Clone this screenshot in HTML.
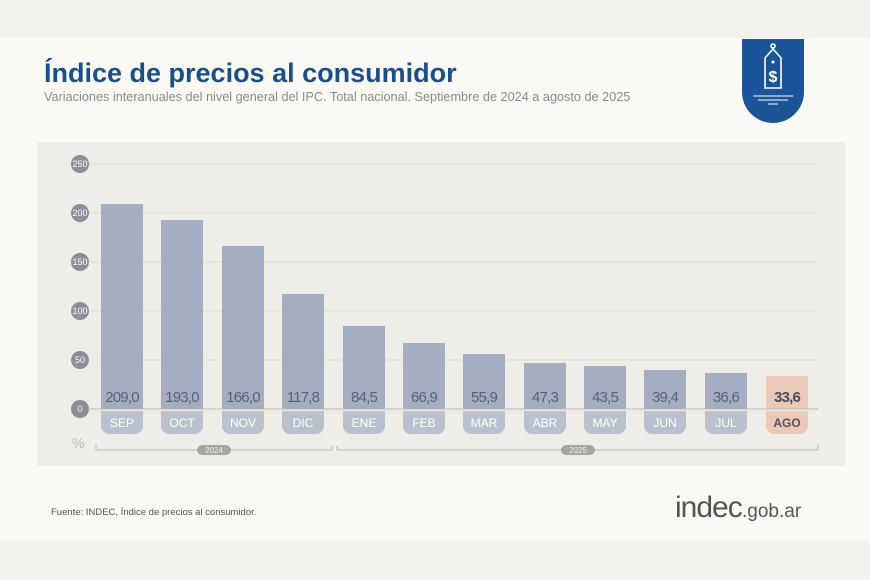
<!DOCTYPE html>
<html><head><meta charset="utf-8"><style>
html,body{margin:0;padding:0;width:870px;height:580px;overflow:hidden;background:#f4f2ed;font-family:"Liberation Sans",sans-serif}
</style></head><body>
<svg width="870" height="580" viewBox="0 0 870 580" xmlns="http://www.w3.org/2000/svg" font-family="Liberation Sans, sans-serif">
<rect x="0" y="0" width="870" height="580" fill="#f4f2ed"/>
<rect x="0" y="38" width="870" height="502" fill="#fbf9f4"/>
<text x="44" y="82" font-size="27" font-weight="bold" fill="#1b4f8a">Índice de precios al consumidor</text>
<text x="44" y="101" font-size="12.7" fill="#8a8a8a">Variaciones interanuales del nivel general del IPC. Total nacional. Septiembre de 2024 a agosto de 2025</text>
<path d="M742 39 H804 V92 A31 31 0 0 1 742 92 Z" fill="#1a5499"/>
<g stroke="#fff" stroke-width="1.6" fill="none">
<circle cx="773" cy="46" r="2"/>
<path d="M765 58 L773 49 L781 58 V88 H765 Z"/>
</g>
<text x="773" y="82" font-size="16" font-weight="bold" fill="#fff" text-anchor="middle">$</text>
<circle cx="773" cy="62" r="1.5" fill="#fff"/>
<g stroke="#fff" stroke-width="1"><line x1="753" y1="96" x2="793" y2="96"/><line x1="758" y1="100" x2="788" y2="100"/><line x1="768" y1="104" x2="778" y2="104"/></g>
<rect x="37" y="142" width="808" height="324" fill="#efede8"/>
<g stroke="#e0ddd6" stroke-width="1">
<line x1="88" y1="164" x2="818" y2="164"/><line x1="88" y1="213" x2="818" y2="213"/><line x1="88" y1="262" x2="818" y2="262"/><line x1="88" y1="311" x2="818" y2="311"/><line x1="88" y1="360" x2="818" y2="360"/>
</g>
<g fill="#8b8d99">
<circle cx="80" cy="164" r="9"/><circle cx="80" cy="213" r="9"/><circle cx="80" cy="262" r="9"/><circle cx="80" cy="311" r="9"/><circle cx="80" cy="360" r="9"/><circle cx="80" cy="409" r="9"/>
</g>
<g font-size="9" fill="#fff" text-anchor="middle">
<text x="80" y="167">250</text><text x="80" y="216">200</text><text x="80" y="265">150</text><text x="80" y="314">100</text><text x="80" y="363">50</text><text x="80" y="412">0</text>
</g>
<g fill="#a3afc0">
<rect x="101" y="204" width="42" height="205"/>
<rect x="161" y="220" width="42" height="189"/>
<rect x="222" y="246" width="42" height="163"/>
<rect x="282" y="294" width="42" height="115"/>
<rect x="343" y="326" width="42" height="83"/>
<rect x="403" y="343" width="42" height="66"/>
<rect x="463" y="354" width="42" height="55"/>
<rect x="524" y="363" width="42" height="46"/>
<rect x="584" y="366" width="42" height="43"/>
<rect x="644" y="370" width="42" height="39"/>
<rect x="705" y="373" width="42" height="36"/>
</g>
<rect x="766" y="376" width="42" height="33" fill="#eac9b6"/>
<line x1="88" y1="409" x2="818" y2="409" stroke="#b8b6b0" stroke-width="1"/>
<g fill="#b9c1cf">
<path d="M101 411 H143 V426 A8 8 0 0 1 135 434 H109 A8 8 0 0 1 101 426 Z"/>
<path d="M161 411 H203 V426 A8 8 0 0 1 195 434 H169 A8 8 0 0 1 161 426 Z"/>
<path d="M222 411 H264 V426 A8 8 0 0 1 256 434 H230 A8 8 0 0 1 222 426 Z"/>
<path d="M282 411 H324 V426 A8 8 0 0 1 316 434 H290 A8 8 0 0 1 282 426 Z"/>
<path d="M343 411 H385 V426 A8 8 0 0 1 377 434 H351 A8 8 0 0 1 343 426 Z"/>
<path d="M403 411 H445 V426 A8 8 0 0 1 437 434 H411 A8 8 0 0 1 403 426 Z"/>
<path d="M463 411 H505 V426 A8 8 0 0 1 497 434 H471 A8 8 0 0 1 463 426 Z"/>
<path d="M524 411 H566 V426 A8 8 0 0 1 558 434 H532 A8 8 0 0 1 524 426 Z"/>
<path d="M584 411 H626 V426 A8 8 0 0 1 618 434 H592 A8 8 0 0 1 584 426 Z"/>
<path d="M644 411 H686 V426 A8 8 0 0 1 678 434 H652 A8 8 0 0 1 644 426 Z"/>
<path d="M705 411 H747 V426 A8 8 0 0 1 739 434 H713 A8 8 0 0 1 705 426 Z"/>
</g>
<path d="M766 411 H808 V426 A8 8 0 0 1 800 434 H774 A8 8 0 0 1 766 426 Z" fill="#eac9b6"/>
<g font-size="15" fill="#54607a" text-anchor="middle" letter-spacing="-0.8">
<text x="122" y="402">209,0</text><text x="182" y="402">193,0</text><text x="243" y="402">166,0</text><text x="303" y="402">117,8</text><text x="364" y="402">84,5</text><text x="424" y="402">66,9</text><text x="484" y="402">55,9</text><text x="545" y="402">47,3</text><text x="605" y="402">43,5</text><text x="665" y="402">39,4</text><text x="726" y="402">36,6</text>
</g>
<text x="787" y="402" font-size="15" font-weight="bold" fill="#4a4f60" text-anchor="middle" letter-spacing="-0.8">33,6</text>
<g font-size="12" fill="#fff" text-anchor="middle">
<text x="122" y="427">SEP</text><text x="182" y="427">OCT</text><text x="243" y="427">NOV</text><text x="303" y="427">DIC</text><text x="364" y="427">ENE</text><text x="424" y="427">FEB</text><text x="484" y="427">MAR</text><text x="545" y="427">ABR</text><text x="605" y="427">MAY</text><text x="665" y="427">JUN</text><text x="726" y="427">JUL</text>
</g>
<text x="787" y="427" font-size="12" font-weight="bold" fill="#5a4f55" text-anchor="middle">AGO</text>
<text x="72" y="448" font-size="14" fill="#bdbab4">%</text>
<g stroke="#b8b6b0" stroke-width="1" fill="none">
<path d="M96 445 V450 H332 V446"/>
<path d="M337 446 V450 H818 V445"/>
</g>
<rect x="197" y="445" width="34" height="10" rx="5" fill="#a8a6a2"/>
<text x="214" y="453" font-size="8" fill="#efede8" text-anchor="middle">2024</text>
<rect x="561" y="445" width="34" height="10" rx="5" fill="#a8a6a2"/>
<text x="578" y="453" font-size="8" fill="#efede8" text-anchor="middle">2025</text>
<text x="51" y="515" font-size="9.5" fill="#555">Fuente: INDEC, Índice de precios al consumidor.</text>
<text x="675" y="517" font-size="30" fill="#555" letter-spacing="-1">indec</text>
<text x="742" y="517" font-size="19" fill="#555">.gob.ar</text>
</svg>
</body></html>
